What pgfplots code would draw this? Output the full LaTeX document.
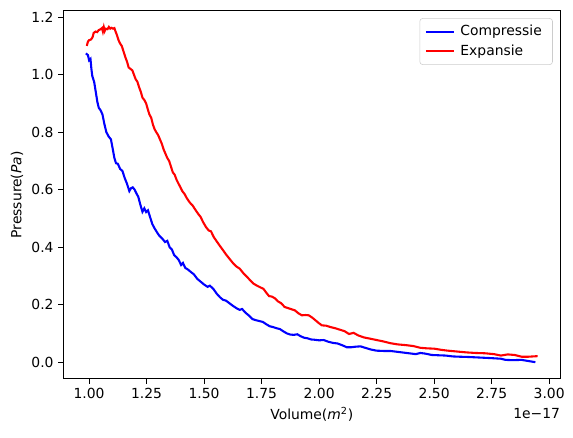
\documentclass[border=0pt]{standalone}
\usepackage{fontspec}
\setmainfont{DejaVu Sans}
\usepackage{pgfplots}
\pgfplotsset{compat=1.18}
\begin{document}
\begin{tikzpicture}
\useasboundingbox (-45.6pt,-42.5pt) rectangle (367.0pt,272.8pt);
\begin{axis}[
  at={(0,0)}, anchor=south west,
  scale only axis, width=357.8pt, height=265.0pt,
  xmin=0.888, xmax=3.048, ymin=-0.058, ymax=1.222,
  axis line style={line width=0.8pt, black},
  tick align=outside, major tick length=3.5pt,
  xtick pos=bottom, ytick pos=left,
  tick style={line width=0.8pt, black},
  xtick={1.00,1.25,1.50,1.75,2.00,2.25,2.50,2.75,3.00},
  ytick={0,0.2,0.4,0.6,0.8,1.0,1.2},
  xticklabel style={/pgf/number format/.cd, fixed, fixed zerofill, precision=2},
  yticklabel style={/pgf/number format/.cd, fixed, fixed zerofill, precision=1},
  /pgf/number format/assume math mode=true,
  ticklabel style={font=\fontsize{10pt}{12pt}\selectfont},
  xlabel={Volume(\textit{m}\textsuperscript{2})},
  ylabel={Pressure(\textit{Pa})},
  label style={font=\fontsize{10pt}{12pt}\selectfont},
  xlabel style={yshift=1pt},
  ylabel style={yshift=-1pt},
  legend style={at={(0.985,0.98)}, anchor=north east, draw=black!20, rounded corners=2pt,
    font=\fontsize{10pt}{12pt}\selectfont, inner xsep=3.5pt, inner ysep=3pt, row sep=1pt,
    legend cell align=left, nodes={inner xsep=4.2pt}},
  legend image code/.code={\draw[#1, line width=1.5pt] (0cm,0cm) -- (20pt,0cm);},
  clip=false,
]
\addplot[blue, line width=1.5pt] coordinates {
(0.986,1.074) (0.995,1.068) (1.000,1.050) (1.006,1.055) (1.010,1.020) (1.014,0.995)
(1.022,0.975) (1.030,0.935) (1.036,0.905) (1.042,0.885) (1.050,0.876) (1.058,0.862)
(1.066,0.830) (1.075,0.800) (1.085,0.785) (1.095,0.775) (1.102,0.745) (1.110,0.710)
(1.117,0.692) (1.125,0.690) (1.135,0.672) (1.145,0.665) (1.155,0.640) (1.165,0.620)
(1.175,0.595) (1.182,0.605) (1.190,0.608) (1.198,0.600) (1.207,0.585) (1.214,0.575)
(1.222,0.550) (1.232,0.523) (1.240,0.535) (1.248,0.522) (1.256,0.528) (1.265,0.505)
(1.275,0.480) (1.285,0.465) (1.295,0.452) (1.305,0.440) (1.318,0.430) (1.330,0.418)
(1.340,0.422) (1.350,0.400) (1.360,0.392) (1.370,0.372) (1.380,0.365) (1.390,0.355)
(1.400,0.338) (1.408,0.345) (1.418,0.328) (1.430,0.322) (1.445,0.312) (1.455,0.306)
(1.470,0.290) (1.485,0.280) (1.500,0.270) (1.515,0.262) (1.525,0.266) (1.540,0.255)
(1.555,0.238) (1.570,0.225) (1.582,0.217) (1.595,0.214) (1.610,0.205) (1.625,0.196)
(1.640,0.188) (1.655,0.182) (1.665,0.185) (1.680,0.172) (1.695,0.162) (1.710,0.150)
(1.725,0.146) (1.740,0.143) (1.755,0.140) (1.770,0.132) (1.785,0.125) (1.800,0.122)
(1.815,0.118) (1.830,0.115) (1.845,0.107) (1.860,0.100) (1.875,0.096) (1.890,0.095)
(1.905,0.097) (1.920,0.090) (1.935,0.085) (1.950,0.083) (1.965,0.079) (1.980,0.078)
(2.000,0.076) (2.020,0.077) (2.040,0.071) (2.060,0.067) (2.080,0.065) (2.100,0.059)
(2.120,0.052) (2.140,0.052) (2.160,0.054) (2.180,0.055) (2.200,0.050) (2.225,0.044)
(2.250,0.040) (2.280,0.039) (2.310,0.039) (2.340,0.036) (2.370,0.033) (2.400,0.030)
(2.420,0.028) (2.440,0.032) (2.460,0.030) (2.490,0.025) (2.520,0.024) (2.550,0.023)
(2.580,0.020) (2.610,0.019) (2.650,0.018) (2.700,0.016) (2.750,0.014) (2.790,0.012)
(2.810,0.008) (2.840,0.007) (2.880,0.008) (2.910,0.004) (2.940,0.000)
};
\addlegendentry{Compressie}
\addplot[red, line width=1.5pt] coordinates {
(0.990,1.100) (0.995,1.115) (1.000,1.120) (1.008,1.122) (1.015,1.130) (1.020,1.145)
(1.028,1.150) (1.035,1.148) (1.042,1.155) (1.050,1.158) (1.056,1.162) (1.060,1.150)
(1.064,1.165) (1.068,1.152) (1.072,1.160) (1.080,1.158) (1.086,1.166) (1.092,1.160)
(1.098,1.163) (1.104,1.160) (1.110,1.162) (1.115,1.150) (1.120,1.140) (1.128,1.120)
(1.135,1.108) (1.142,1.100) (1.150,1.080) (1.158,1.060) (1.165,1.045) (1.172,1.025)
(1.180,1.020) (1.188,1.015) (1.195,1.000) (1.202,0.985) (1.210,0.975) (1.218,0.955)
(1.225,0.940) (1.232,0.920) (1.240,0.912) (1.248,0.900) (1.255,0.880) (1.262,0.862)
(1.270,0.850) (1.278,0.825) (1.285,0.810) (1.292,0.800) (1.300,0.790) (1.308,0.775)
(1.316,0.760) (1.324,0.740) (1.332,0.725) (1.340,0.710) (1.348,0.700) (1.356,0.680)
(1.364,0.660) (1.372,0.652) (1.380,0.635) (1.388,0.622) (1.396,0.610) (1.405,0.595)
(1.415,0.585) (1.425,0.570) (1.438,0.555) (1.450,0.545) (1.462,0.530) (1.475,0.515)
(1.485,0.505) (1.495,0.488) (1.508,0.470) (1.520,0.458) (1.530,0.455) (1.542,0.435)
(1.555,0.420) (1.568,0.405) (1.580,0.392) (1.595,0.375) (1.610,0.360) (1.625,0.345)
(1.640,0.333) (1.655,0.325) (1.670,0.310) (1.685,0.298) (1.700,0.285) (1.715,0.273)
(1.730,0.266) (1.745,0.260) (1.758,0.255) (1.770,0.242) (1.782,0.230) (1.795,0.228)
(1.808,0.222) (1.820,0.212) (1.835,0.205) (1.850,0.192) (1.865,0.188) (1.880,0.184)
(1.895,0.180) (1.910,0.170) (1.925,0.163) (1.940,0.164) (1.955,0.163) (1.970,0.155)
(1.985,0.145) (2.000,0.135) (2.012,0.128) (2.030,0.127) (2.050,0.122) (2.070,0.118)
(2.090,0.113) (2.110,0.108) (2.130,0.098) (2.150,0.102) (2.170,0.093) (2.195,0.086)
(2.220,0.082) (2.250,0.077) (2.280,0.072) (2.310,0.066) (2.340,0.062) (2.380,0.059)
(2.410,0.056) (2.440,0.050) (2.470,0.048) (2.500,0.047) (2.530,0.043) (2.560,0.040)
(2.600,0.037) (2.640,0.034) (2.680,0.032) (2.720,0.031) (2.760,0.028) (2.790,0.023)
(2.820,0.027) (2.850,0.025) (2.880,0.019) (2.910,0.019) (2.950,0.021)
};
\addlegendentry{Expansie}
\node[anchor=north east, font=\fontsize{10pt}{12pt}\selectfont, inner sep=0pt]
  at ([yshift=-21pt]rel axis cs:1,0) {1e−17};
\end{axis}
\end{tikzpicture}
\end{document}
